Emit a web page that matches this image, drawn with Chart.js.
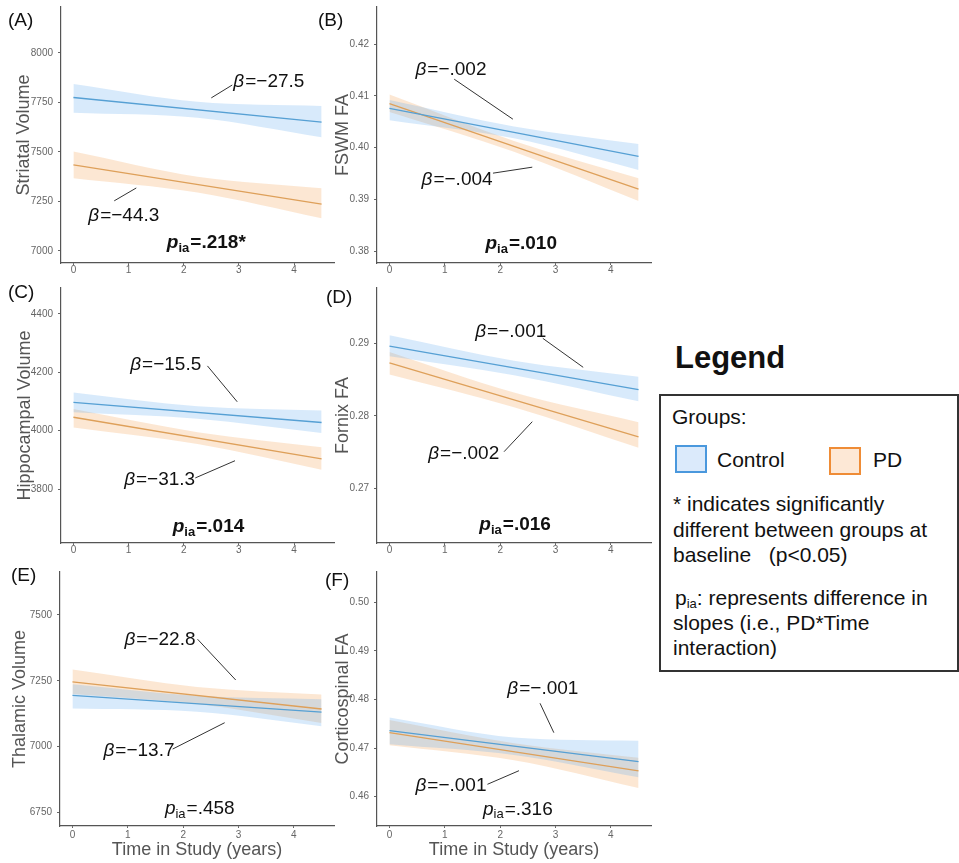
<!DOCTYPE html>
<html>
<head>
<meta charset="utf-8">
<script src="https://cdn.jsdelivr.net/npm/chart.js@4.4.0/dist/chart.umd.min.js"></script>
<style>
  body { margin: 0; background: #fff; width: 959px; height: 863px; position: relative; overflow: hidden;
         font-family: "Liberation Sans", Arial, sans-serif; color: #111; }
  canvas { position: absolute; }
  .tag { position: absolute; font-size: 19px; line-height: 22px; }
  .lg { position: absolute; font-size: 21px; line-height: 25px; white-space: pre; }
  .sw { position: absolute; width: 28px; height: 24px; border: 2px solid; }
</style>
</head>
<body>
<canvas id="cA" width="336" height="280" style="left:0;top:0"></canvas>
<canvas id="cB" width="335" height="280" style="left:322px;top:0"></canvas>
<canvas id="cC" width="336" height="280" style="left:0;top:280px"></canvas>
<canvas id="cD" width="335" height="280" style="left:322px;top:280px"></canvas>
<canvas id="cE" width="336" height="323" style="left:0;top:540px"></canvas>
<canvas id="cF" width="335" height="323" style="left:322px;top:540px"></canvas>

<div class="tag" style="left:8px;top:9px">(A)</div>
<div class="tag" style="left:318px;top:9px">(B)</div>
<div class="tag" style="left:8px;top:281px">(C)</div>
<div class="tag" style="left:326px;top:286px">(D)</div>
<div class="tag" style="left:11px;top:564px">(E)</div>
<div class="tag" style="left:325px;top:569px">(F)</div>

<div style="position:absolute;left:675px;top:339px;font-size:31px;font-weight:bold;line-height:38px">Legend</div>
<div style="position:absolute;left:659px;top:394px;width:296px;height:274px;border:2px solid #333"></div>
<div class="lg" style="left:672px;top:404px">Groups:</div>
<div class="sw" style="left:675px;top:445px;background:#dbeafb;border-color:#4a98dd"></div>
<div class="lg" style="left:717px;top:447px">Control</div>
<div class="sw" style="left:829px;top:447px;background:#fde8d6;border-color:#ef8c36"></div>
<div class="lg" style="left:873px;top:447px">PD</div>
<div class="lg" style="left:673px;top:491px">* indicates significantly</div>
<div class="lg" style="left:673px;top:517px">different between groups at</div>
<div class="lg" style="left:673px;top:542px">baseline   (p&lt;0.05)</div>
<div class="lg" style="left:675px;top:585px">p<sub style="font-size:13px;vertical-align:-3px">ia</sub>: represents difference in</div>
<div class="lg" style="left:673px;top:610px">slopes (i.e., PD*Time</div>
<div class="lg" style="left:673px;top:635px">interaction)</div>

<script>
const xTicks = [0, 1, 2, 3, 4];
const lineX = [0, 4.5];
const bandX = [0, 2.25, 4.5];

// (A) striatal volume
const striatalTicks = [7000, 7250, 7500, 7750, 8000];
const striatalControl = [7775, 7651];
const striatalControlHi = [7843, 7753, 7732];
const striatalControlLo = [7698, 7673, 7574];
const striatalPD = [7435, 7236];
const striatalPDHi = [7502, 7375, 7317];
const striatalPDLo = [7367, 7295, 7165];

// (B) FSWM FA
const fswmTicks = [0.38, 0.39, 0.40, 0.41, 0.42];
const fswmControl = [0.4076, 0.3983];
const fswmControlHi = [0.4092, 0.4041, 0.4007];
const fswmControlLo = [0.4053, 0.4018, 0.3957];
const fswmPD = [0.4085, 0.3920];
const fswmPDHi = [0.4103, 0.4013, 0.3941];
const fswmPDLo = [0.4069, 0.3992, 0.3897];

// (C) hippocampal volume
const hippoTicks = [3800, 4000, 4200, 4400];
const hippoControl = [4097, 4028];
const hippoControlHi = [4131, 4084, 4069];
const hippoControlLo = [4063, 4041, 3992];
const hippoPD = [4046, 3903];
const hippoPDHi = [4074, 3995, 3943];
const hippoPDLo = [4011, 3954, 3866];

// (D) fornix FA
const fornixTicks = [0.27, 0.28, 0.29];
const fornixControl = [0.2896, 0.2836];
const fornixControlHi = [0.2911, 0.2876, 0.2854];
const fornixControlLo = [0.2882, 0.2856, 0.2820];
const fornixPD = [0.2873, 0.2771];
const fornixPDHi = [0.2888, 0.2832, 0.2791];
const fornixPDLo = [0.2857, 0.2812, 0.2756];

// (E) thalamic volume
const thalamicTicks = [6750, 7000, 7250, 7500];
const thalamicControl = [7195, 7131];
const thalamicControlHi = [7237, 7193, 7180];
const thalamicControlLo = [7145, 7133, 7078];
const thalamicPD = [7246, 7143];
const thalamicPDHi = [7293, 7227, 7198];
const thalamicPDLo = [7200, 7162, 7090];

// (F) corticospinal FA
const corticoTicks = [0.46, 0.47, 0.48, 0.49, 0.50];
const corticoControl = [0.4736, 0.4672];
const corticoControlHi = [0.4763, 0.4722, 0.4715];
const corticoControlLo = [0.4708, 0.4686, 0.4640];
const corticoPD = [0.4732, 0.4653];
const corticoPDHi = [0.4758, 0.4710, 0.4680];
const corticoPDLo = [0.4706, 0.4675, 0.4618];

const FONT = '"Liberation Sans", Arial, sans-serif';
const ctrlLine = 'rgb(86,160,212)';
const pdLine = 'rgb(222,160,90)';
const ctrlFill = 'rgba(100,170,240,0.25)';
const pdFill = 'rgba(245,160,80,0.25)';

const pts = (xs, ys) => xs.map((x, i) => ({ x: x, y: ys[i] }));

// beta annotations: label anchor (left, middle) + leader line, in data units
const panels = [
  { id: 'cA', axisW: 61, padTop: 7, padRight: 2, axisH: 17, tickPad: 0, titlePad: 13, title: 'Striatal Volume',
    yMin: 6939, yMax: 8232, yTicks: striatalTicks, dec: 0,
    ctrl: striatalControl, ctrlHi: striatalControlHi, ctrlLo: striatalControlLo,
    pd: striatalPD, pdHi: striatalPDHi, pdLo: striatalPDLo,
    betas: [
      { t: '\u221227.5', x: 2.90, y: 7854, line: [2.50, 7773, 2.88, 7838] },
      { t: '\u221244.3', x: 0.27, y: 7177, line: [0.74, 7253, 1.14, 7318] }],
    p: { t: '=.218*', x: 2.41, y: 7040, bold: true } },
  { id: 'cB', axisW: 55, padTop: 7, padRight: 6, axisH: 17, tickPad: 0, titlePad: 10, title: 'FSWM FA',
    yMin: 0.3777, yMax: 0.4272, yTicks: fswmTicks, dec: 2,
    ctrl: fswmControl, ctrlHi: fswmControlHi, ctrlLo: fswmControlLo,
    pd: fswmPD, pdHi: fswmPDHi, pdLo: fswmPDLo,
    betas: [
      { t: '\u2212.002', x: 0.47, y: 0.41498, line: [1.17, 0.41324, 2.23, 0.40551] },
      { t: '\u2212.004', x: 0.58, y: 0.39372, line: [1.87, 0.39507, 2.58, 0.39623] }],
    p: { t: '=.010', x: 2.38, y: 0.38135, bold: true } },
  { id: 'cC', axisW: 61, padTop: 8, padRight: 2, axisH: 17, tickPad: 0, titlePad: 14, title: 'Hippocampal Volume',
    yMin: 3615, yMax: 4489, yTicks: hippoTicks, dec: 0,
    ctrl: hippoControl, ctrlHi: hippoControlHi, ctrlLo: hippoControlLo,
    pd: hippoPD, pdHi: hippoPDHi, pdLo: hippoPDLo,
    betas: [
      { t: '\u221215.5', x: 1.03, y: 4225, line: [2.43, 4222, 2.97, 4099] },
      { t: '\u221231.3', x: 0.92, y: 3831, line: [2.21, 3838, 2.93, 3897] }],
    p: { t: '=.014', x: 2.45, y: 3670, bold: true } },
  { id: 'cD', axisW: 55, padTop: 8, padRight: 6, axisH: 17, tickPad: 0, titlePad: 10, title: 'Fornix FA',
    yMin: 0.26246, yMax: 0.29763, yTicks: fornixTicks, dec: 2,
    ctrl: fornixControl, ctrlHi: fornixControlHi, ctrlLo: fornixControlLo,
    pd: fornixPD, pdHi: fornixPDHi, pdLo: fornixPDLo,
    betas: [
      { t: '\u2212.001', x: 1.55, y: 0.2916, line: [2.77, 0.29069, 3.50, 0.28669] },
      { t: '\u2212.002', x: 0.70, y: 0.27483, line: [2.07, 0.27505, 2.58, 0.27919] }],
    p: { t: '=.016', x: 2.27, y: 0.26494, bold: true } },
  { id: 'cE', axisW: 60, padTop: 32, padRight: 2, axisH: 37, tickPad: 2, titlePad: 9, title: 'Thalamic Volume',
    yMin: 6699, yMax: 7663, yTicks: thalamicTicks, dec: 0, xTitle: true,
    ctrl: thalamicControl, ctrlHi: thalamicControlHi, ctrlLo: thalamicControlLo,
    pd: thalamicPD, pdHi: thalamicPDHi, pdLo: thalamicPDLo,
    betas: [
      { t: '\u221222.8', x: 0.94, y: 7405, line: [2.26, 7408, 2.95, 7253] },
      { t: '\u221213.7', x: 0.56, y: 6985, line: [1.81, 6991, 2.75, 7091] }],
    p: { t: '=.458', x: 2.30, y: 6763, bold: false } },
  { id: 'cF', axisW: 55, padTop: 32, padRight: 6, axisH: 37, tickPad: 2, titlePad: 10, title: 'Corticospinal FA',
    yMin: 0.45397, yMax: 0.50623, yTicks: corticoTicks, dec: 2, xTitle: true,
    ctrl: corticoControl, ctrlHi: corticoControlHi, ctrlLo: corticoControlLo,
    pd: corticoPD, pdHi: corticoPDHi, pdLo: corticoPDLo,
    betas: [
      { t: '\u2212.001', x: 2.13, y: 0.48230, line: [2.72, 0.47922, 2.97, 0.47317] },
      { t: '\u2212.001', x: 0.47, y: 0.46220, line: [1.77, 0.46255, 2.34, 0.46535] }],
    p: { t: '=.316', x: 2.32, y: 0.45741, bold: false } }
];

const annotate = {
  id: 'annotate',
  afterDatasetsDraw(chart, args, opts) {
    const { ctx } = chart;
    const x = chart.scales.x, y = chart.scales.y;
    ctx.save();
    ctx.fillStyle = '#111';
    ctx.strokeStyle = '#333';
    ctx.lineWidth = 1;
    ctx.textBaseline = 'middle';
    ctx.textAlign = 'left';
    opts.betas.forEach(b => {
      const l = b.line;
      ctx.beginPath();
      ctx.moveTo(x.getPixelForValue(l[0]), y.getPixelForValue(l[1]));
      ctx.lineTo(x.getPixelForValue(l[2]), y.getPixelForValue(l[3]));
      ctx.stroke();
      let px = x.getPixelForValue(b.x), py = y.getPixelForValue(b.y);
      ctx.font = 'italic 19px ' + FONT;
      ctx.fillText('\u03b2', px, py);
      px += ctx.measureText('\u03b2').width + 1;
      ctx.font = '19px ' + FONT;
      ctx.fillText('=' + b.t, px, py);
    });
    const p = opts.p;
    const w = p.bold ? 'bold ' : '';
    const f1 = 'italic ' + w + '19px ' + FONT, f2 = w + '13px ' + FONT, f3 = w + '19px ' + FONT;
    ctx.font = f1; const w1 = ctx.measureText('p').width;
    ctx.font = f2; const w2 = ctx.measureText('ia').width;
    ctx.font = f3; const w3 = ctx.measureText(p.t).width;
    let px = x.getPixelForValue(p.x) - (w1 + w2 + w3 + 1) / 2;
    const py = y.getPixelForValue(p.y);
    ctx.font = f1; ctx.fillText('p', px, py); px += w1;
    ctx.font = f2; ctx.fillText('ia', px, py + 5); px += w2 + 1;
    ctx.font = f3; ctx.fillText(p.t, px, py);
    ctx.restore();
  }
};

const bandSet = (xs, ys, fill, color) => ({
  data: pts(xs, ys), fill: fill, backgroundColor: color, borderColor: 'transparent', borderWidth: 0,
  pointRadius: 0, cubicInterpolationMode: 'monotone'
});

panels.forEach(pn => {
  new Chart(document.getElementById(pn.id), {
    type: 'line',
    data: {
      datasets: [
        { data: pts(lineX, pn.ctrl), borderColor: ctrlLine, borderWidth: 1.3, pointRadius: 0, fill: false },
        { data: pts(lineX, pn.pd), borderColor: pdLine, borderWidth: 1.3, pointRadius: 0, fill: false },
        bandSet(bandX, pn.ctrlHi, '+1', ctrlFill),
        bandSet(bandX, pn.ctrlLo, false, ctrlFill),
        bandSet(bandX, pn.pdHi, '+1', pdFill),
        bandSet(bandX, pn.pdLo, false, pdFill)
      ]
    },
    options: {
      responsive: false,
      animation: false,
      layout: { padding: { top: pn.padTop, right: pn.padRight, left: 0, bottom: 0 } },
      plugins: {
        legend: { display: false },
        tooltip: { enabled: false },
        annotate: { betas: pn.betas, p: pn.p }
      },
      scales: {
        x: {
          type: 'linear', min: -0.225, max: 4.725,
          afterBuildTicks: s => { s.ticks = xTicks.map(v => ({ value: v })); },
          afterFit: s => { s.height = pn.axisH; s.paddingLeft = 0; s.paddingRight = 0; },
          ticks: { color: '#666', font: { family: FONT, size: 10, lineHeight: 1 }, padding: pn.tickPad,
                   maxRotation: 0, callback: v => String(v) },
          grid: { display: true, drawOnChartArea: false, drawTicks: true, tickLength: 2, color: '#666' },
          border: { display: true, color: '#555', width: 1.2 },
          title: { display: !!pn.xTitle, text: 'Time in Study (years)', color: '#555',
                   font: { family: FONT, size: 18 }, padding: { top: 0, bottom: 2 } }
        },
        y: {
          type: 'linear', min: pn.yMin, max: pn.yMax,
          afterBuildTicks: s => { s.ticks = pn.yTicks.map(v => ({ value: v })); },
          afterFit: s => { s.width = pn.axisW; s.paddingTop = 0; s.paddingBottom = 0; },
          ticks: { color: '#666', font: { family: FONT, size: 10 }, padding: 5,
                   callback: v => Number(v).toFixed(pn.dec) },
          grid: { display: true, drawOnChartArea: false, drawTicks: true, tickLength: 3, color: '#666' },
          border: { display: true, color: '#555', width: 1.2 },
          title: { display: true, text: pn.title, color: '#555',
                   font: { family: FONT, size: 18 }, padding: { top: pn.titlePad, bottom: 0 } }
        }
      }
    },
    plugins: [annotate]
  });
});
</script>
</body>
</html>
